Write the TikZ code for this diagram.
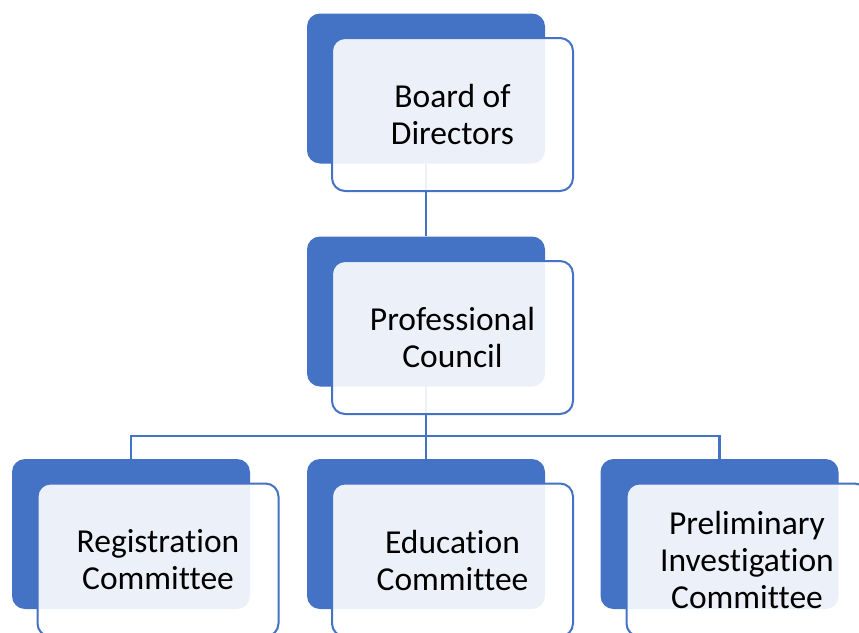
\documentclass[tikz,border=0pt]{standalone}
\usepackage{fontspec}
\setmainfont{Carlito}[Ligatures={NoCommon}]
\usetikzlibrary{backgrounds}
\definecolor{accent}{HTML}{4472C4}
\begin{document}
\begin{tikzpicture}[x=1pt,y=-1pt,
 backbox/.style={fill=accent, rounded corners=13pt, minimum width=238pt, minimum height=150pt, inner sep=0pt},
 frontbox/.style={draw=accent, line width=2pt, fill=white, fill opacity=0.9, text opacity=1, rounded corners=13pt, minimum width=241pt, minimum height=153pt, inner sep=0pt, align=center, font=\fontsize{33.5}{37}\selectfont},
 link/.style={draw=accent, line width=2.2pt}]
\clip (0,0) rectangle (859,632);
% Board of Directors
\node[backbox] (bd-back) at (426,88.5) {};
\node[frontbox] (bd) at (452.5,114.5) {Board of\\Directors};
% Professional Council
\node[backbox] (pc-back) at (426,311.5) {};
\node[frontbox] (pc) at (452.5,337.5) {Professional\\Council};
% Committees
\node[backbox] (rc-back) at (131,534) {};
\node[frontbox] (rc) at (158,560) {Registration\\Committee};
\node[backbox] (ec-back) at (426,534) {};
\node[frontbox] (ec) at (452.5,560) {Education\\Committee};
\node[backbox] (pi-back) at (719.5,534) {};
\node[frontbox] (pi) at (747,560) {Preliminary\\Investigation\\Committee};
\coordinate (bus) at (426,436);
\begin{scope}[on background layer]
\draw[link] (bd-back.south) -- (pc-back.north);
\draw[link] (pc-back.south) -- (ec-back.north);
\draw[link] (rc-back.north) |- (bus) -| (pi-back.north);
\end{scope}
\end{tikzpicture}
\end{document}
